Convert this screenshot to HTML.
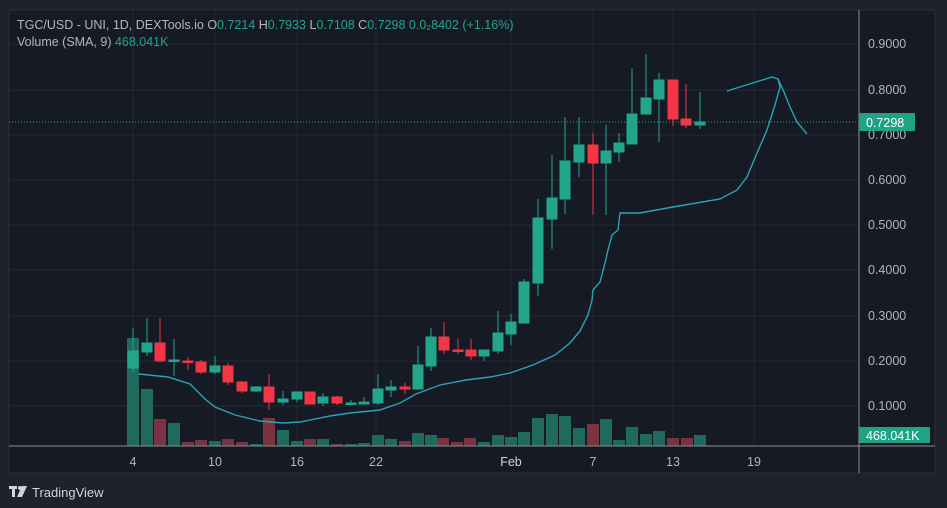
<!DOCTYPE html>
<html><head><meta charset="utf-8"><style>
html,body{margin:0;padding:0;background:#1e222d;}
svg{display:block;font-family:"Liberation Sans",sans-serif;}
</style></head><body>
<svg width="947" height="508" xmlns="http://www.w3.org/2000/svg">
<rect x="0" y="0" width="947" height="508" fill="#1e222d"/>
<rect x="9" y="10" width="926" height="463" fill="#161a25" stroke="#2a2e39" stroke-width="1"/>
<g stroke="#242835" stroke-width="1">
<line x1="9" y1="44" x2="859" y2="44"/><line x1="9" y1="90" x2="859" y2="90"/><line x1="9" y1="135" x2="859" y2="135"/>
<line x1="9" y1="180" x2="859" y2="180"/><line x1="9" y1="225" x2="859" y2="225"/><line x1="9" y1="270" x2="859" y2="270"/>
<line x1="9" y1="316" x2="859" y2="316"/><line x1="9" y1="361" x2="859" y2="361"/><line x1="9" y1="406" x2="859" y2="406"/>
<line x1="133" y1="10" x2="133" y2="446"/><line x1="215" y1="10" x2="215" y2="446"/><line x1="297" y1="10" x2="297" y2="446"/>
<line x1="376" y1="10" x2="376" y2="446"/><line x1="511" y1="10" x2="511" y2="446"/><line x1="593" y1="10" x2="593" y2="446"/>
<line x1="673" y1="10" x2="673" y2="446"/><line x1="754" y1="10" x2="754" y2="446"/>
</g>
<!-- volume -->
<g>
<g fill="#1f6a5c">
<rect x="127" y="338" width="12" height="108"/><rect x="141" y="389" width="12" height="57"/>
<rect x="168" y="423" width="12" height="23"/><rect x="209" y="441" width="12" height="5"/>
<rect x="250" y="444" width="12" height="2"/><rect x="277" y="430" width="12" height="16"/>
<rect x="291" y="441" width="12" height="5"/><rect x="317" y="439" width="12" height="7"/>
<rect x="345" y="444" width="12" height="2"/><rect x="358" y="443" width="12" height="3"/>
<rect x="372" y="435" width="12" height="11"/><rect x="385" y="439" width="12" height="7"/>
<rect x="412" y="433" width="12" height="13"/><rect x="425" y="435" width="12" height="11"/>
<rect x="478" y="442" width="12" height="4"/><rect x="492" y="435" width="12" height="11"/>
<rect x="505" y="437" width="12" height="9"/><rect x="518" y="432" width="12" height="14"/>
<rect x="532" y="418" width="12" height="28"/><rect x="546" y="414" width="12" height="32"/>
<rect x="559" y="416" width="12" height="30"/><rect x="573" y="428" width="12" height="18"/>
<rect x="600" y="419" width="12" height="27"/><rect x="613" y="440" width="12" height="6"/>
<rect x="626" y="427" width="12" height="19"/><rect x="640" y="434" width="12" height="12"/>
<rect x="653" y="431" width="12" height="15"/><rect x="694" y="435" width="12" height="11"/>
</g>
<g fill="#7a3340">
<rect x="154" y="419" width="12" height="27"/><rect x="182" y="442" width="12" height="4"/>
<rect x="195" y="440" width="12" height="6"/><rect x="222" y="439" width="12" height="7"/>
<rect x="236" y="442" width="12" height="4"/><rect x="263" y="418" width="12" height="28"/>
<rect x="304" y="439" width="12" height="7"/><rect x="331" y="444" width="12" height="2"/>
<rect x="399" y="441" width="12" height="5"/><rect x="437" y="438" width="12" height="8"/>
<rect x="451" y="442" width="12" height="4"/><rect x="464" y="438" width="12" height="8"/>
<rect x="587" y="424" width="12" height="22"/><rect x="667" y="438" width="12" height="8"/>
<rect x="681" y="438" width="12" height="8"/>
</g>
</g>
<!-- SMA lines -->
<g fill="none" stroke="#2aa3b8" stroke-width="1.4">
<polyline points="139,374 168,377 190,384 205,399 215,407 235,415 260,421 283,423 300,422 330,416 350,413 380,410 400,403 416,394 440,385 466,380 490,377 510,373 533,365 555,355 570,343 580,331 588,315 592,300 593,290 600,282 605,263 608,250 612,235 618,230 620,213 640,213 673,207 720,199 737,190 747,177 757,153 767,130 775,105 780,87 778,79"/>
<polyline points="727,91 772,77 778,79 784,92 790,107 797,122 807,134"/>
</g>
<!-- candles -->
<g stroke-width="1">
<g stroke="#22a58b" fill="#22a58b">
<line x1="133" y1="328" x2="133" y2="372"/><rect x="128" y="351" width="10" height="17"/>
<line x1="147" y1="318" x2="147" y2="356"/><rect x="142" y="343" width="10" height="9"/>
<line x1="174" y1="339" x2="174" y2="376"/><rect x="169" y="360" width="10" height="1.5"/>
<line x1="215" y1="356" x2="215" y2="374"/><rect x="210" y="366" width="10" height="6"/>
<line x1="256" y1="386" x2="256" y2="392"/><rect x="251" y="387" width="10" height="4"/>
<line x1="283" y1="391" x2="283" y2="405"/><rect x="278" y="399" width="10" height="3"/>
<line x1="297" y1="392" x2="297" y2="402"/><rect x="292" y="392" width="10" height="7"/>
<line x1="323" y1="393" x2="323" y2="406"/><rect x="318" y="397" width="10" height="6"/>
<line x1="351" y1="400" x2="351" y2="405"/><rect x="346" y="403" width="10" height="1.5"/>
<line x1="364" y1="397" x2="364" y2="404"/><rect x="359" y="402" width="10" height="2"/>
<line x1="378" y1="374" x2="378" y2="405"/><rect x="373" y="389" width="10" height="14"/>
<line x1="391" y1="380" x2="391" y2="397"/><rect x="386" y="387" width="10" height="3"/>
<line x1="418" y1="346" x2="418" y2="389"/><rect x="413" y="365" width="10" height="24"/>
<line x1="431" y1="328" x2="431" y2="371"/><rect x="426" y="337" width="10" height="29"/>
<line x1="484" y1="350" x2="484" y2="361"/><rect x="479" y="350" width="10" height="6"/>
<line x1="498" y1="311" x2="498" y2="354"/><rect x="493" y="333" width="10" height="18"/>
<line x1="511" y1="314" x2="511" y2="345"/><rect x="506" y="322" width="10" height="12"/>
<line x1="524" y1="279" x2="524" y2="323"/><rect x="519" y="282" width="10" height="41"/>
<line x1="538" y1="199" x2="538" y2="296"/><rect x="533" y="218" width="10" height="65"/>
<line x1="552" y1="155" x2="552" y2="249"/><rect x="547" y="198" width="10" height="21"/>
<line x1="565" y1="117" x2="565" y2="214"/><rect x="560" y="161" width="10" height="38"/>
<line x1="579" y1="117" x2="579" y2="177"/><rect x="574" y="145" width="10" height="17"/>
<line x1="606" y1="125" x2="606" y2="215"/><rect x="601" y="151" width="10" height="12"/>
<line x1="619" y1="133" x2="619" y2="162"/><rect x="614" y="143" width="10" height="9"/>
<line x1="632" y1="68" x2="632" y2="144"/><rect x="627" y="114" width="10" height="30"/>
<line x1="646" y1="54" x2="646" y2="115"/><rect x="641" y="98" width="10" height="16"/>
<line x1="659" y1="73" x2="659" y2="142"/><rect x="654" y="80" width="10" height="19"/>
<line x1="700" y1="92" x2="700" y2="129"/><rect x="695" y="122" width="10" height="3"/>
</g>
<g stroke="#f23645" fill="#f23645">
<line x1="160" y1="318" x2="160" y2="362"/><rect x="155" y="343" width="10" height="18"/>
<line x1="188" y1="357" x2="188" y2="370"/><rect x="183" y="361" width="10" height="1.5"/>
<line x1="201" y1="360" x2="201" y2="374"/><rect x="196" y="362" width="10" height="10"/>
<line x1="228" y1="363" x2="228" y2="385"/><rect x="223" y="366" width="10" height="16"/>
<line x1="242" y1="381" x2="242" y2="393"/><rect x="237" y="382" width="10" height="9"/>
<line x1="269" y1="374" x2="269" y2="410"/><rect x="264" y="387" width="10" height="15"/>
<line x1="310" y1="392" x2="310" y2="404"/><rect x="305" y="392" width="10" height="12"/>
<line x1="337" y1="396" x2="337" y2="405"/><rect x="332" y="397" width="10" height="6"/>
<line x1="405" y1="383" x2="405" y2="394"/><rect x="400" y="387" width="10" height="2"/>
<line x1="444" y1="322" x2="444" y2="354"/><rect x="439" y="337" width="10" height="13"/>
<line x1="458" y1="339" x2="458" y2="354"/><rect x="453" y="350" width="10" height="1.5"/>
<line x1="471" y1="339" x2="471" y2="360"/><rect x="466" y="350" width="10" height="6"/>
<line x1="593" y1="133" x2="593" y2="215"/><rect x="588" y="145" width="10" height="18"/>
<line x1="673" y1="80" x2="673" y2="126"/><rect x="668" y="80" width="10" height="39"/>
<line x1="686" y1="84" x2="686" y2="128"/><rect x="681" y="119" width="10" height="6"/>
</g>
</g>
<line x1="9" y1="122" x2="859" y2="122" stroke="#22a58b" stroke-width="1" stroke-dasharray="1,2"/>
<!-- axes -->
<line x1="9" y1="446" x2="935" y2="446" stroke="#8a8d96" stroke-width="1"/>
<line x1="859" y1="10" x2="859" y2="473" stroke="#8a8d96" stroke-width="1"/>
<g fill="#b2b5be" font-size="12.5">
<text x="868" y="48">0.9000</text><text x="868" y="94">0.8000</text><text x="868" y="139">0.7000</text>
<text x="868" y="184">0.6000</text><text x="868" y="229">0.5000</text><text x="868" y="274">0.4000</text>
<text x="868" y="320">0.3000</text><text x="868" y="365">0.2000</text><text x="868" y="410">0.1000</text>
</g>
<rect x="859" y="113" width="56" height="18" rx="1" fill="#1fa286"/>
<text x="866" y="127" fill="#ffffff" font-size="12.5">0.7298</text>
<rect x="859" y="427" width="71" height="16" rx="1" fill="#1fa286"/>
<text x="866" y="440" fill="#ffffff" font-size="12.5">468.041K</text>
<g fill="#b2b5be" font-size="12.5" text-anchor="middle">
<text x="133" y="466">4</text><text x="215" y="466">10</text><text x="297" y="466">16</text>
<text x="376" y="466">22</text><text x="511" y="466" fill="#d1d4dc">Feb</text><text x="593" y="466">7</text>
<text x="673" y="466">13</text><text x="754" y="466">19</text>
</g>
<!-- legend -->
<text x="17" y="29" font-size="12.5" fill="#b2b5be">TGC/USD - UNI, 1D, DEXTools.io  O<tspan fill="#22a58b">0.7214</tspan>  H<tspan fill="#22a58b">0.7933</tspan>  L<tspan fill="#22a58b">0.7108</tspan>  C<tspan fill="#22a58b">0.7298</tspan>  <tspan fill="#22a58b">0.0₂8402 (+1.16%)</tspan></text>
<text x="17" y="46" font-size="12.5" fill="#b2b5be">Volume (SMA, 9)  <tspan fill="#22a58b">468.041K</tspan></text>
<!-- logo -->
<g fill="#d1d4dc">
<rect x="9" y="486" width="8" height="3"/><rect x="12" y="486" width="3" height="11"/>
<circle cx="20" cy="488" r="2"/><polygon points="22,486 27,486 22,497 17,497"/>
</g>
<text x="32" y="497" font-size="13" fill="#d1d4dc">TradingView</text>
</svg>
</body></html>
